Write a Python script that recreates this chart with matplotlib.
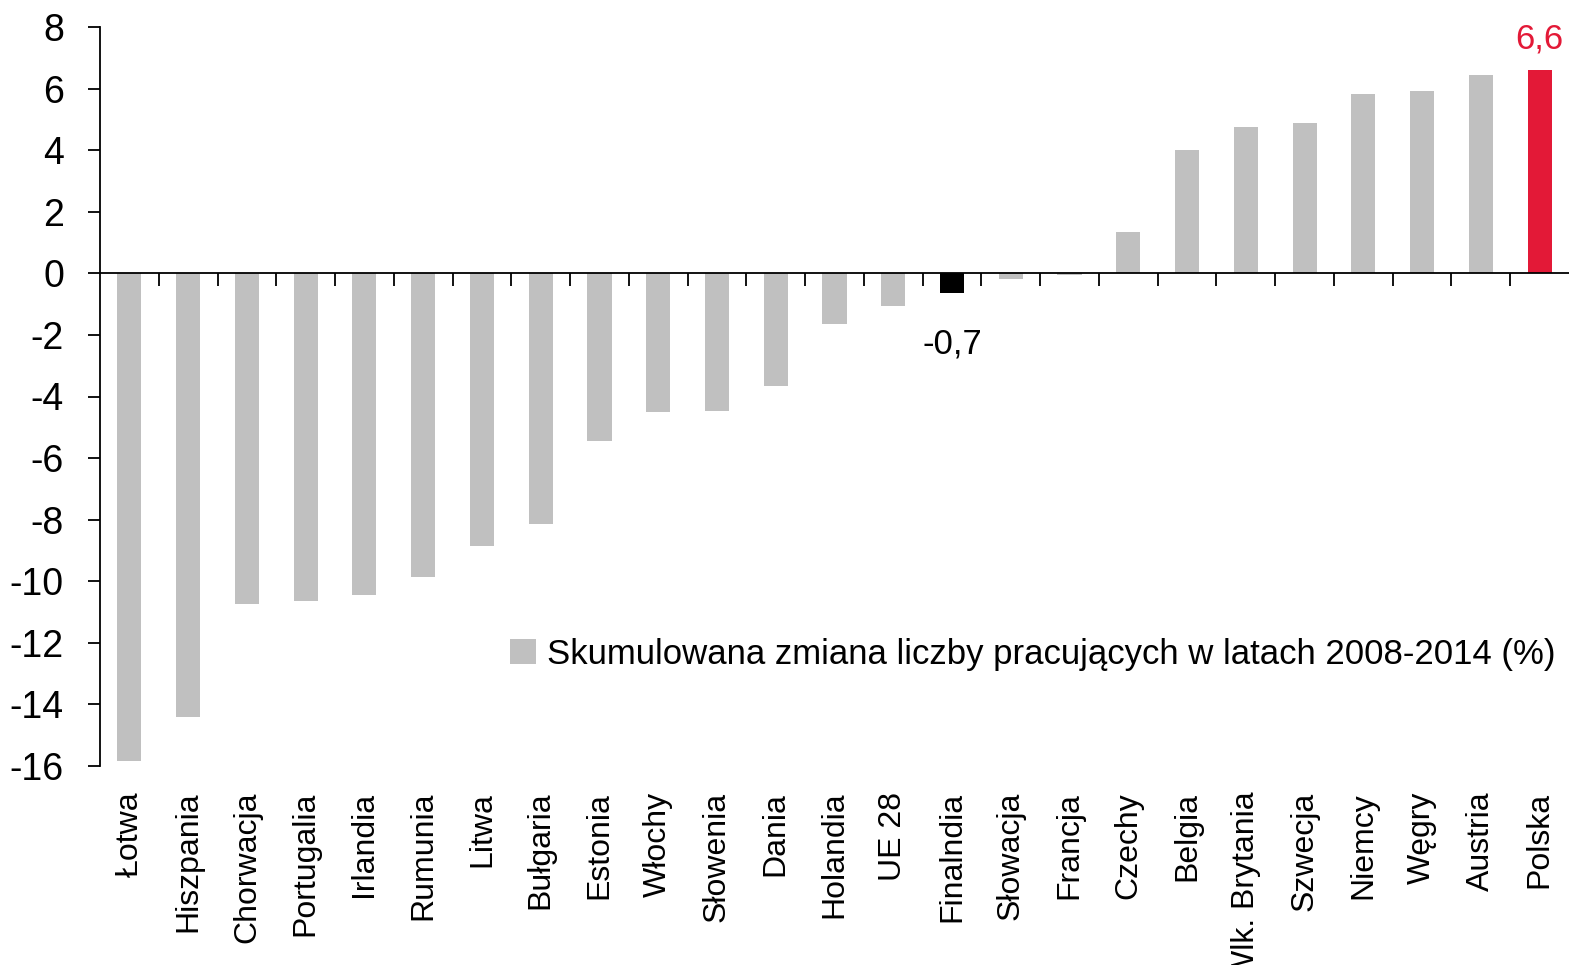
import matplotlib.pyplot as plt
from matplotlib.patches import Patch
from matplotlib.transforms import blended_transform_factory

plt.rcParams['font.family'] = ['Liberation Sans', 'DejaVu Sans']
plt.rcParams['axes.unicode_minus'] = False

countries = ['Łotwa', 'Hiszpania', 'Chorwacja', 'Portugalia', 'Irlandia', 'Rumunia',
             'Litwa', 'Bułgaria', 'Estonia', 'Włochy', 'Słowenia', 'Dania', 'Holandia',
             'UE 28', 'Finalndia', 'Słowacja', 'Francja', 'Czechy', 'Belgia',
             'Wlk. Brytania', 'Szwecja', 'Niemcy', 'Węgry', 'Austria', 'Polska']
values = [-15.85, -14.4, -10.75, -10.65, -10.45, -9.87, -8.85, -8.15, -5.45, -4.5,
          -4.47, -3.65, -1.65, -1.05, -0.65, -0.2, -0.04, 1.35, 4.0, 4.75, 4.88,
          5.82, 5.92, 6.45, 6.6]
highlight = {'Finalndia': '#000000', 'Polska': '#E31937'}
label_black = '-0,7'
label_red = '6,6'
legend_text = 'Skumulowana zmiana liczby pracujących w latach 2008-2014 (%)'

gray = '#C0C0C0'
colors = [highlight.get(c, gray) for c in countries]
x = list(range(len(countries)))

fig = plt.figure(figsize=(15.69, 9.65), dpi=100)
ax = fig.add_axes([100 / 1569, 1 - 766 / 965, 1469 / 1569, 739 / 965])

ax.bar(x, values, width=0.41, color=colors, zorder=2)

ax.set_xlim(-0.5, len(countries) - 0.5)
ax.set_ylim(-16, 8)
ax.set_yticks(range(-16, 9, 2))
ax.tick_params(axis='y', labelsize=27, length=9, width=1.3, pad=17, direction='out')

ax.spines['top'].set_visible(False)
ax.spines['right'].set_visible(False)
ax.spines['bottom'].set_position(('data', 0))
ax.spines['left'].set_linewidth(1.3)
ax.spines['bottom'].set_linewidth(1.3)
ax.spines['bottom'].set_zorder(3)

ax.set_xticks([i + 0.5 for i in x[:-1]])
ax.set_xticklabels([])
ax.tick_params(axis='x', length=9, width=1.3, direction='out')

trans = blended_transform_factory(ax.transData, ax.transAxes)
for i, name in enumerate(countries):
    ax.text(i, -0.035, name, transform=trans, rotation=90, ha='center', va='top',
            fontsize=23)

i_black = countries.index('Finalndia')
i_red = countries.index('Polska')
ax.text(i_black, -2.3, label_black, ha='center', va='center', fontsize=25)
ax.text(i_red, 7.6, label_red, ha='center', va='center', fontsize=25, color='#E31937')

handle = Patch(facecolor=gray, edgecolor='none')
ax.legend([handle], [legend_text], loc='center right', bbox_to_anchor=(1.0, 0.322),
          bbox_transform=fig.transFigure, frameon=False, fontsize=25,
          handlelength=0.75, handleheight=0.75, handletextpad=0.3, borderaxespad=0)

fig.savefig('out.png', dpi=100)
